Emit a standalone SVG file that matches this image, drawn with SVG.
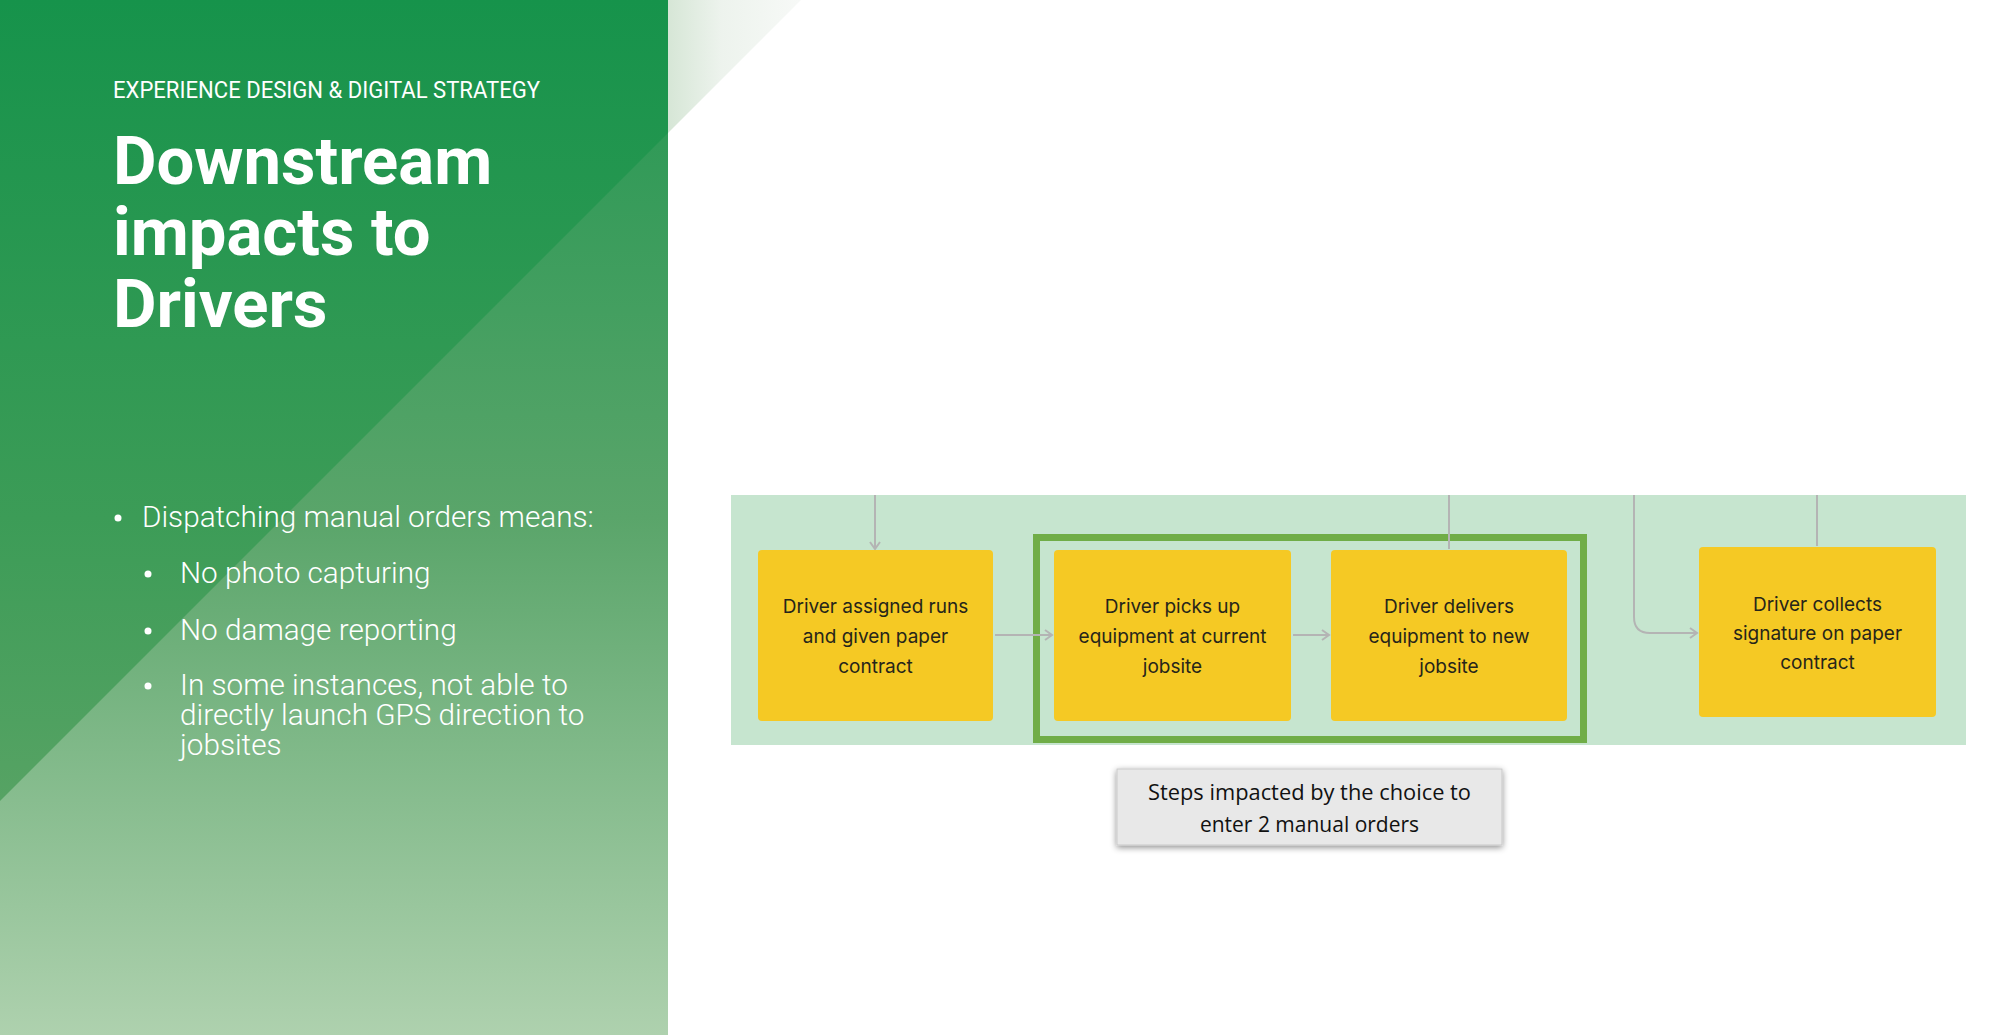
<svg xmlns="http://www.w3.org/2000/svg" width="2000" height="1035" viewBox="0 0 2000 1035">
  <defs>
    <linearGradient id="panelLight" x1="0" y1="0" x2="0" y2="1035" gradientUnits="userSpaceOnUse">
      <stop offset="0" stop-color="#229651"/>
      <stop offset="0.5" stop-color="#5aa56a"/>
      <stop offset="1" stop-color="#aed1ae"/>
    </linearGradient>
    <linearGradient id="panelDark" x1="0" y1="0" x2="0" y2="1035" gradientUnits="userSpaceOnUse">
      <stop offset="0" stop-color="#16934b"/>
      <stop offset="0.5" stop-color="#3c9c57"/>
      <stop offset="0.78" stop-color="#57a364"/>
    </linearGradient>
    <linearGradient id="cornerFade" x1="668" y1="0" x2="801" y2="0" gradientUnits="userSpaceOnUse">
      <stop offset="0" stop-color="#d6e6d6"/>
      <stop offset="0.4" stop-color="#edf3ed"/>
      <stop offset="1" stop-color="#f7f9f7"/>
    </linearGradient>
    <marker id="chevron" viewBox="0 0 12 12" refX="10" refY="6" markerWidth="12" markerHeight="12" markerUnits="userSpaceOnUse" orient="auto">
      <path d="M3,1 L10,6 L3,11" fill="none" stroke="#b4b4b4" stroke-width="2"/>
    </marker>
    <filter id="softShadow" x="-10%" y="-30%" width="120%" height="170%">
      <feDropShadow dx="0" dy="2" stdDeviation="3" flood-color="#000" flood-opacity="0.45"/>
    </filter>
  </defs>
  <style>
    .eyebrow { font-family: Roboto, "Liberation Sans", sans-serif; font-size: 23px; fill: #ffffff; }
    .title { font-family: Roboto, "Liberation Sans", sans-serif; font-size: 67px; font-weight: 700; fill: #ffffff; }
    .bullet { font-family: Roboto, "Liberation Sans", sans-serif; font-size: 29.7px; font-weight: 300; fill: #ffffff; }
    .step { fill: #f5c924; }
    .step-text { font-family: Inter, "Liberation Sans", sans-serif; font-size: 19px; fill: #26251a; text-anchor: middle; }
    .link { fill: none; stroke: #b4b4b4; stroke-width: 2; }
    .note-text { font-family: "Open Sans", "Liberation Sans", sans-serif; font-size: 21px; fill: #111111; text-anchor: middle; }
  </style>

  <rect width="2000" height="1035" fill="#ffffff"/>

  <!-- left title panel -->
  <g id="panel">
    <rect x="0" y="0" width="668" height="1035" fill="url(#panelLight)"/>
    <polygon points="0,0 668,0 668,133 0,801" fill="url(#panelDark)"/>
    <polygon points="668,0 801,0 668,133" fill="url(#cornerFade)"/>
    <text class="eyebrow" x="113" y="98" textLength="427" lengthAdjust="spacingAndGlyphs">EXPERIENCE DESIGN &amp; DIGITAL STRATEGY</text>
    <text class="title" x="113" y="184">Downstream</text>
    <text class="title" x="113" y="255">impacts to</text>
    <text class="title" x="113" y="327">Drivers</text>

    <circle cx="118" cy="518" r="3.5" fill="#ffffff"/>
    <text class="bullet" x="142" y="527">Dispatching manual orders means:</text>
    <circle cx="148" cy="574" r="3.5" fill="#ffffff"/>
    <text class="bullet" x="180" y="583">No photo capturing</text>
    <circle cx="148" cy="631" r="3.5" fill="#ffffff"/>
    <text class="bullet" x="180" y="640">No damage reporting</text>
    <circle cx="148" cy="686" r="3.5" fill="#ffffff"/>
    <text class="bullet" x="180" y="695">In some instances, not able to</text>
    <text class="bullet" x="180" y="725">directly launch GPS direction to</text>
    <text class="bullet" x="180" y="755">jobsites</text>
  </g>

  <!-- swimlane band -->
  <rect id="lane" x="731" y="495" width="1235" height="250" fill="#c6e5cf"/>

  <!-- highlight frame around the impacted steps -->
  <rect id="impact-frame" x="1036.5" y="537.5" width="547" height="202" fill="none" stroke="#70ad47" stroke-width="7"/>

  <g id="connectors">
    <path class="link" d="M875,495 V549" marker-end="url(#chevron)"/>
    <path class="link" d="M995,635 H1052" marker-end="url(#chevron)"/>
    <path class="link" d="M1293,635 H1329" marker-end="url(#chevron)"/>
    <path class="link" d="M1449,495 V549"/>
    <path class="link" d="M1634,495 V617 Q1634,633 1650,633 H1697" marker-end="url(#chevron)"/>
    <path class="link" d="M1817,495 V546"/>
  </g>

  <g id="step-assigned">
    <rect class="step" x="758" y="550" width="235" height="171" rx="4"/>
    <text class="step-text" x="875.5" y="613">Driver assigned runs</text>
    <text class="step-text" x="875.5" y="643">and given paper</text>
    <text class="step-text" x="875.5" y="673">contract</text>
  </g>

  <g id="step-pickup">
    <rect class="step" x="1054" y="550" width="237" height="171" rx="4"/>
    <text class="step-text" x="1172.5" y="613">Driver picks up</text>
    <text class="step-text" x="1172.5" y="643">equipment at current</text>
    <text class="step-text" x="1172.5" y="673">jobsite</text>
  </g>

  <g id="step-deliver">
    <rect class="step" x="1331" y="550" width="236" height="171" rx="4"/>
    <text class="step-text" x="1449" y="613">Driver delivers</text>
    <text class="step-text" x="1449" y="643">equipment to new</text>
    <text class="step-text" x="1449" y="673">jobsite</text>
  </g>

  <g id="step-signature">
    <rect class="step" x="1699" y="547" width="237" height="170" rx="4"/>
    <text class="step-text" x="1817.5" y="611">Driver collects</text>
    <text class="step-text" x="1817.5" y="640">signature on paper</text>
    <text class="step-text" x="1817.5" y="669">contract</text>
  </g>

  <g id="impact-note">
    <rect x="1117" y="769" width="385" height="76" fill="#e8e8e8" stroke="#c9c9c9" stroke-width="1" filter="url(#softShadow)"/>
    <text class="note-text" x="1309.5" y="800" textLength="323" lengthAdjust="spacingAndGlyphs">Steps impacted by the choice to</text>
    <text class="note-text" x="1309.5" y="832">enter 2 manual orders</text>
  </g>
</svg>
